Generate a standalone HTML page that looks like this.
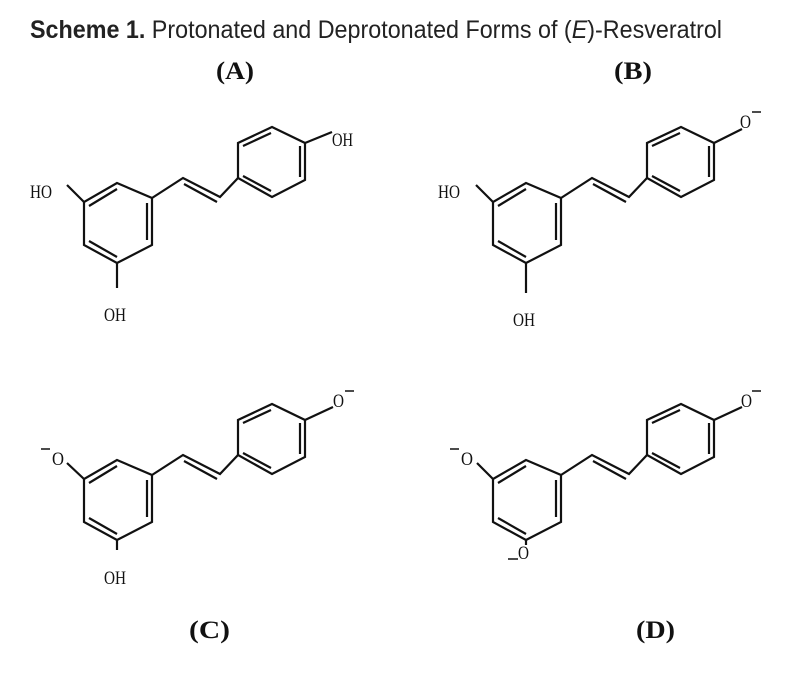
<!DOCTYPE html>
<html><head><meta charset="utf-8"><style>
html,body{margin:0;padding:0;background:#fff;}
svg{display:block;}
.t{font-family:"Liberation Serif",serif;font-size:19px;fill:#111;}
.b{font-family:"Liberation Serif",serif;font-size:25px;font-weight:bold;fill:#111;}
</style></head><body>
<svg width="804" height="673" viewBox="0 0 804 673" xmlns="http://www.w3.org/2000/svg">
<defs>
<g id="sk" fill="none" stroke="#111" stroke-width="2.2" stroke-linejoin="miter">
<polygon points="117,183 152,198 152,245 117,263 84,245 84,202"/>
<line x1="89" y1="206" x2="117" y2="189"/>
<line x1="147" y1="203" x2="147" y2="240"/>
<line x1="89" y1="241" x2="117" y2="257"/>
<polyline points="152,198 183,178 220,197 238,178"/>
<line x1="184" y1="184" x2="217" y2="202"/>
<polygon points="238,178 238,143 272,127 305,143 305,180 272,197"/>
<line x1="243" y1="146" x2="271" y2="133"/>
<line x1="300" y1="146" x2="300" y2="177"/>
<line x1="243" y1="176" x2="271" y2="191"/>
</g>
</defs>
<text x="30" y="38" font-family="'Liberation Sans Narrow','Liberation Sans',sans-serif" font-size="25" fill="#222" textLength="692" lengthAdjust="spacingAndGlyphs"><tspan font-weight="bold">Scheme 1.</tspan>  Protonated and Deprotonated Forms of (<tspan font-style="italic">E</tspan>)-Resveratrol</text>
<text class="b" x="216" y="79" textLength="38" lengthAdjust="spacingAndGlyphs">(A)</text>
<text class="b" x="614" y="79" textLength="38" lengthAdjust="spacingAndGlyphs">(B)</text>
<text class="b" x="189" y="638" textLength="41" lengthAdjust="spacingAndGlyphs">(C)</text>
<text class="b" x="636" y="638" textLength="39" lengthAdjust="spacingAndGlyphs">(D)</text>

<use href="#sk"/>
<g stroke="#111" stroke-width="2.2">
<line x1="84" y1="202" x2="67" y2="185"/>
<line x1="117" y1="263" x2="117" y2="288"/>
<line x1="305" y1="143" x2="332" y2="132"/>
</g>
<text class="t" x="30" y="198" textLength="22" lengthAdjust="spacingAndGlyphs">HO</text>
<text class="t" x="104" y="321" textLength="22" lengthAdjust="spacingAndGlyphs">OH</text>
<text class="t" x="332" y="146" textLength="21" lengthAdjust="spacingAndGlyphs">OH</text>

<use href="#sk" transform="translate(409,0)"/>
<g stroke="#111" stroke-width="2.2">
<line x1="493" y1="202" x2="476" y2="185"/>
<line x1="526" y1="263" x2="526" y2="293"/>
<line x1="714" y1="143" x2="742" y2="129"/>
</g>
<line x1="752" y1="112" x2="761" y2="112" stroke="#111" stroke-width="1.5"/>
<text class="t" x="438" y="198" textLength="22" lengthAdjust="spacingAndGlyphs">HO</text>
<text class="t" x="513" y="326" textLength="22" lengthAdjust="spacingAndGlyphs">OH</text>
<text class="t" x="740" y="128" textLength="11" lengthAdjust="spacingAndGlyphs">O</text>

<use href="#sk" transform="translate(0,277)"/>
<g stroke="#111" stroke-width="2.2">
<line x1="84" y1="479" x2="67" y2="463"/>
<line x1="117" y1="540" x2="117" y2="550"/>
<line x1="305" y1="420" x2="333" y2="407"/>
</g>
<g stroke="#111" stroke-width="1.5">
<line x1="41" y1="449" x2="50" y2="449"/>
<line x1="345" y1="391" x2="354" y2="391"/>
</g>
<text class="t" x="52" y="465" textLength="12" lengthAdjust="spacingAndGlyphs">O</text>
<text class="t" x="104" y="584" textLength="22" lengthAdjust="spacingAndGlyphs">OH</text>
<text class="t" x="333" y="407" textLength="11" lengthAdjust="spacingAndGlyphs">O</text>

<use href="#sk" transform="translate(409,277)"/>
<g stroke="#111" stroke-width="2.2">
<line x1="493" y1="479" x2="477" y2="463"/>
<line x1="526" y1="540" x2="526" y2="545"/>
<line x1="714" y1="420" x2="742" y2="407"/>
</g>
<g stroke="#111" stroke-width="1.5">
<line x1="450" y1="449" x2="459" y2="449"/>
<line x1="508" y1="559" x2="518" y2="559"/>
<line x1="752" y1="391" x2="761" y2="391"/>
</g>
<text class="t" x="461" y="465" textLength="12" lengthAdjust="spacingAndGlyphs">O</text>
<text class="t" x="518" y="559" textLength="11" lengthAdjust="spacingAndGlyphs">O</text>
<text class="t" x="741" y="407" textLength="11" lengthAdjust="spacingAndGlyphs">O</text>
</svg>
</body></html>
